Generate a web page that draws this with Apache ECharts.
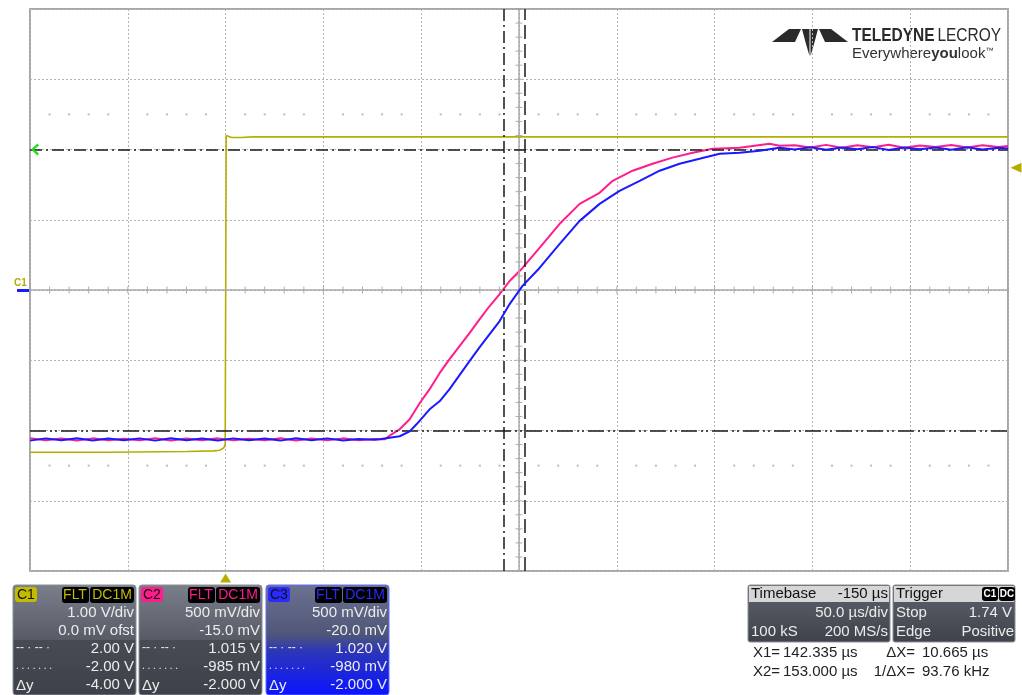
<!DOCTYPE html>
<html>
<head>
<meta charset="utf-8">
<script src="https://cdn.jsdelivr.net/npm/echarts@6/dist/echarts.min.js"></script>
<style>
html,body{margin:0;padding:0;background:#fff;}
#scope{width:1022px;height:695px;}
</style>
</head>
<body>
<div id="scope"></div>
<script>
// time in µs (trigger at 0), voltage in V
var c1Time = [-100, -60, -20, -6, -3, -1, -0.2, 0.3, 1, 3, 8, 14, 60, 150, 250, 400];
var c1Volt = [-2.31, -2.31, -2.30, -2.29, -2.28, -2.25, -2.2, 2.2, 2.21, 2.17, 2.17, 2.18, 2.18, 2.18, 2.18, 2.18];

var c2Time = [-100, -92, -84, -76, -68, -60, -52, -44, -36, -28, -20, -12, -4, 4, 12, 20, 28, 36, 44, 52, 60, 68, 76,
  81.3, 84.9, 89.0, 94.1, 99.2, 104.3, 109.4, 114.5, 119.6, 124.7, 129.9, 135.0, 140.1, 145.2, 151.8, 160.5, 170.8,
  181.0, 191.2, 197.9, 208.1, 218.3, 228.5, 238.8, 249.0, 262.8, 278.1, 283.2,
  291, 299, 307, 315, 323, 331, 339, 347, 355, 363, 371, 379, 387, 395, 400];
var c2Volt = [-1.040, -1.055, -1.042, -1.056, -1.041, -1.054, -1.043, -1.055, -1.040, -1.056, -1.042, -1.054, -1.041, -1.055, -1.043, -1.054, -1.040, -1.056, -1.042, -1.055, -1.041, -1.054, -1.046,
  -1.048, -1.012, -0.976, -0.905, -0.791, -0.691, -0.577, -0.477, -0.384, -0.292, -0.192, -0.099, -0.014, 0.079, 0.172, 0.315, 0.486,
  0.628, 0.707, 0.792, 0.864, 0.914, 0.957, 0.992, 1.021, 1.028, 1.056, 1.042,
  1.045, 1.030, 1.048, 1.028, 1.046, 1.031, 1.049, 1.027, 1.044, 1.032, 1.047, 1.029, 1.045, 1.033, 1.040];

var c3Time = [-100, -92, -84, -76, -68, -60, -52, -44, -36, -28, -20, -12, -4, 4, 12, 20, 28, 36, 44, 52, 60, 68, 76,
  78.7, 89.0, 94.1, 97.6, 104.3, 109.4, 114.5, 119.6, 124.7, 129.9, 135.0, 140.1, 145.2, 151.8, 160.5, 170.8,
  181.0, 191.2, 201.4, 211.7, 221.9, 232.1, 242.3, 252.6, 262.8, 273.0, 283.2,
  291, 299, 307, 315, 323, 331, 339, 347, 355, 363, 371, 379, 387, 395, 400];
var c3Volt = [-1.052, -1.036, -1.050, -1.035, -1.051, -1.037, -1.050, -1.036, -1.052, -1.035, -1.050, -1.037, -1.051, -1.036, -1.050, -1.037, -1.052, -1.035, -1.050, -1.036, -1.051, -1.040, -1.045,
  -1.043, -1.021, -0.986, -0.936, -0.829, -0.772, -0.686, -0.586, -0.486, -0.387, -0.294, -0.201, -0.080, 0.049, 0.177, 0.348,
  0.512, 0.633, 0.726, 0.797, 0.869, 0.919, 0.954, 0.990, 0.997, 1.011, 1.033,
  1.020, 1.036, 1.018, 1.034, 1.021, 1.037, 1.017, 1.035, 1.022, 1.034, 1.019, 1.036, 1.020, 1.033, 1.028];

// scope settings
var c1Scale = [-4, 4];              // 1.00 V/div, 0 mV offset
var c2Scale = [-1.985, 2.015];      // 500 mV/div, -15 mV offset
var c3Scale = [-1.98, 2.02];        // 500 mV/div, -20 mV offset
var cursorX = [142.335, 153.0];
var cursorY = [2.0, -2.0];
var trigLevel = 1.74;

var c1Rows = ['1.00 V/div', '0.0 mV ofst', '2.00 V', '-2.00 V', '-4.00 V'];
var c2Rows = ['500 mV/div', '-15.0 mV', '1.015 V', '-985 mV', '-2.000 V'];
var c3Rows = ['500 mV/div', '-20.0 mV', '1.020 V', '-980 mV', '-2.000 V'];

var YEL = '#b5ae00', PINK = '#ff1c8c', BLUE = '#1a1aff';
var FONT = '"Liberation Sans", Arial, sans-serif';

function pairs(t, v) {
  return t.map(function (x, i) { return [x, v[i]]; });
}

// graticule decorations
var tickX = [], tickY = [], dotRow = [];
for (var t = -100; t <= 400; t += 10) {
  tickX.push([t, 0]);
  if ((t + 100) % 50 !== 0) { dotRow.push([t, 2.5]); dotRow.push([t, -2.5]); }
}
for (var k = -20; k <= 20; k++) tickY.push([150, k / 5]);

function box(x, y, w, h, fill, stroke, r) {
  return { type: 'rect', silent: true, shape: { x: x, y: y, width: w, height: h, r: r || 0 },
    style: { fill: fill, stroke: stroke || null, lineWidth: 1 } };
}
function txt(x, y, s, color, align, size, weight) {
  return { type: 'text', silent: true, x: x, y: y,
    style: { text: s, fill: color, font: (weight || 'normal') + ' ' + (size || 15) + 'px ' + FONT,
      textAlign: align || 'left', align: align || 'left', textVerticalAlign: 'middle', verticalAlign: 'middle' } };
}

function chanPanel(x, name, col, rows, isBlue) {
  var w = 123, y = 585, els = [];
  var bg = isBlue
    ? new echarts.graphic.LinearGradient(0, 0, 0, 1, [
        { offset: 0, color: '#6c7390' }, { offset: 0.45, color: '#4f5678' },
        { offset: 0.6, color: '#2c36b8' }, { offset: 1, color: '#0a14ff' }])
    : new echarts.graphic.LinearGradient(0, 0, 0, 1, [
        { offset: 0, color: '#7a7f8b' }, { offset: 0.5, color: '#565b66' },
        { offset: 0.5, color: '#474b54' }, { offset: 1, color: '#3d4149' }]);
  els.push(box(x, y, w, 110, bg, isBlue ? '#5a6cff' : '#8a8e96', 3));
  els.push(box(x + 2, y + 2, 22, 15, col, null, 3));
  els.push(txt(x + 4, y + 10, name, '#111', 'left', 14));
  els.push(box(x + 49, y + 2, 27, 16, '#000', null, 3));
  els.push(txt(x + 62, y + 10, 'FLT', col, 'center', 14));
  els.push(box(x + 77, y + 2, 44, 16, '#000', null, 3));
  els.push(txt(x + 99, y + 10, 'DC1M', col, 'center', 14));
  var ys = [613, 631, 649, 667, 685];
  for (var i = 0; i < rows.length; i++) els.push(txt(x + w - 2, ys[i], rows[i], '#ececec', 'right', 15));
  els.push(txt(x + 3, 648, '-- · -- ·', '#ececec', 'left', 12));
  els.push(txt(x + 3, 666, '. . . . . . .', '#ececec', 'left', 10));
  els.push(txt(x + 3, 686, 'Δy', '#ececec', 'left', 15));
  return els;
}

var graphics = [];
// logo
graphics.push(box(768, 24, 236, 48, '#fff'));
[[[772, 42], [789, 29], [801, 29], [795, 42]],
 [[802, 29], [809.5, 29], [809.5, 56], [806, 44]],
 [[810.5, 29], [818, 29], [814, 44], [810.5, 56]],
 [[819, 29], [831, 29], [848, 42], [825, 42]]].forEach(function (p) {
  graphics.push({ type: 'polygon', silent: true, shape: { points: p }, style: { fill: '#2a2a2a' } });
});
graphics.push({ type: 'text', silent: true, x: 852, y: 36, scaleX: 0.86,
  style: { text: '{b|TELEDYNE} {a|LECROY}', textVerticalAlign: 'middle', verticalAlign: 'middle',
    rich: { b: { font: 'bold 18px ' + FONT, fill: '#2a2a2a', color: '#2a2a2a' },
            a: { font: '18px ' + FONT, fill: '#2a2a2a', color: '#2a2a2a' } } } });
graphics.push({ type: 'text', silent: true, x: 852, y: 54,
  style: { text: '{a|Everywhere}{b|you}{a|look}{c|™}', textVerticalAlign: 'middle', verticalAlign: 'middle',
    rich: { a: { font: '15px ' + FONT, fill: '#333', color: '#333' },
            b: { font: 'bold 15px ' + FONT, fill: '#333', color: '#333' },
            c: { font: '8px ' + FONT, fill: '#333', color: '#333', verticalAlign: 'top' } } } });
// ground marker
graphics.push(txt(14, 283, 'C1', YEL, 'left', 10, 'bold'));
graphics.push(box(17, 289, 12, 3, BLUE));
// channel panels
graphics = graphics.concat(chanPanel(13, 'C1', '#c2bc00', c1Rows, false));
graphics = graphics.concat(chanPanel(139, 'C2', PINK, c2Rows, false));
graphics = graphics.concat(chanPanel(266, 'C3', '#2a2aff', c3Rows, true));
// timebase / trigger
var darkBg = new echarts.graphic.LinearGradient(0, 0, 0, 1, [
  { offset: 0, color: '#5e636e' }, { offset: 1, color: '#3e424a' }]);
graphics.push(box(748, 585, 142, 57, darkBg, '#8a8e96', 2));
graphics.push(box(749, 586, 140, 16, '#d6d6d6'));
graphics.push(txt(751, 594, 'Timebase', '#111', 'left', 15));
graphics.push(txt(888, 594, '-150 µs', '#111', 'right', 15));
graphics.push(txt(888, 613, '50.0 µs/div', '#ececec', 'right', 15));
graphics.push(txt(751, 632, '100 kS', '#ececec', 'left', 15));
graphics.push(txt(888, 632, '200 MS/s', '#ececec', 'right', 15));
graphics.push(box(893, 585, 122, 57, darkBg, '#8a8e96', 2));
graphics.push(box(894, 586, 120, 16, '#d6d6d6'));
graphics.push(txt(896, 594, 'Trigger', '#111', 'left', 15));
graphics.push(box(982, 587, 16, 14, '#000', null, 3));
graphics.push(txt(990, 594, 'C1', '#fff', 'center', 10, 'bold'));
graphics.push(box(999, 587, 16, 14, '#000', null, 3));
graphics.push(txt(1007, 594, 'DC', '#fff', 'center', 10, 'bold'));
graphics.push(txt(896, 613, 'Stop', '#ececec', 'left', 15));
graphics.push(txt(1012, 613, '1.74 V', '#ececec', 'right', 15));
graphics.push(txt(896, 632, 'Edge', '#ececec', 'left', 15));
graphics.push(txt(1014, 632, 'Positive', '#ececec', 'right', 15));
// cursor readout
graphics.push(txt(753, 653, 'X1=', '#222', 'left', 15));
graphics.push(txt(783, 653, '142.335 µs', '#222', 'left', 15));
graphics.push(txt(915, 653, 'ΔX=', '#222', 'right', 15));
graphics.push(txt(922, 653, '10.665 µs', '#222', 'left', 15));
graphics.push(txt(753, 672, 'X2=', '#222', 'left', 15));
graphics.push(txt(783, 672, '153.000 µs', '#222', 'left', 15));
graphics.push(txt(915, 672, '1/ΔX=', '#222', 'right', 15));
graphics.push(txt(922, 672, '93.76 kHz', '#222', 'left', 15));

var chart = echarts.init(document.getElementById('scope'));
chart.setOption({
  animation: false,
  backgroundColor: '#fff',
  grid: { left: 30, top: 9, width: 978, height: 562, show: true, borderColor: '#a8a8a8', borderWidth: 2, backgroundColor: 'transparent' },
  xAxis: {
    type: 'value', min: -100, max: 400, interval: 50,
    axisLine: { show: false }, axisTick: { show: false }, axisLabel: { show: false },
    splitLine: { show: true, lineStyle: { color: '#b4b4b4', type: [2, 2], width: 1 } }
  },
  yAxis: [
    { type: 'value', min: c1Scale[0], max: c1Scale[1], interval: 1,
      axisLine: { show: false }, axisTick: { show: false }, axisLabel: { show: false },
      splitLine: { show: true, lineStyle: { color: '#b4b4b4', type: [2, 2], width: 1 } } },
    { type: 'value', min: c2Scale[0], max: c2Scale[1], show: false, splitLine: { show: false } },
    { type: 'value', min: c3Scale[0], max: c3Scale[1], show: false, splitLine: { show: false } }
  ],
  graphic: graphics,
  series: [
    { type: 'scatter', silent: true, data: dotRow, symbol: 'rect', symbolSize: 2, itemStyle: { color: '#aaa' }, z: 1 },
    { type: 'scatter', silent: true, data: tickX, symbol: 'rect', symbolSize: [1, 7], itemStyle: { color: '#9a9a9a' }, z: 1 },
    { type: 'scatter', silent: true, data: tickY, symbol: 'rect', symbolSize: [7, 1], itemStyle: { color: '#9a9a9a' }, z: 1 },
    { type: 'line', silent: true, data: [], z: 2,
      markLine: { silent: true, symbol: 'none', label: { show: false },
        data: [
          { xAxis: 150, lineStyle: { color: '#a8a8a8', type: 'solid', width: 1.5 } },
          { yAxis: 0, lineStyle: { color: '#a8a8a8', type: 'solid', width: 1.5 } }
        ] } },
    { name: 'C1', type: 'line', data: pairs(c1Time, c1Volt), yAxisIndex: 0, showSymbol: false, z: 3,
      lineStyle: { color: YEL, width: 1.6 }, itemStyle: { color: YEL },
      markPoint: { silent: true, label: { show: false },
        data: [
          { coord: [400, trigLevel], symbol: 'triangle', symbolRotate: 90, symbolSize: [10, 11], symbolOffset: [8, 0], itemStyle: { color: YEL } },
          { coord: [0, c1Scale[0]], symbol: 'triangle', symbolSize: [11, 9], symbolOffset: [0, 7], itemStyle: { color: YEL } },
          { coord: [-100, cursorY[0]], symbol: 'path://M8,0 L10,2 L4,6 L10,10 L8,12 L0,6 Z', symbolSize: [8, 12], symbolOffset: [5, 0], itemStyle: { color: '#22dd22' } }
        ] } },
    { name: 'C2', type: 'line', data: pairs(c2Time, c2Volt), yAxisIndex: 1, showSymbol: false, z: 4,
      lineStyle: { color: PINK, width: 2 } },
    { name: 'C3', type: 'line', data: pairs(c3Time, c3Volt), yAxisIndex: 2, showSymbol: false, z: 5,
      lineStyle: { color: BLUE, width: 2 } },
    { type: 'line', silent: true, data: [], z: 6,
      markLine: { silent: true, symbol: 'none', label: { show: false },
        data: [
          { xAxis: cursorX[0], lineStyle: { color: '#1a1a1a', type: [12, 4, 2, 4], width: 1.5 } },
          { xAxis: cursorX[1], lineStyle: { color: '#1a1a1a', type: [14, 5], width: 1.5 } },
          { yAxis: cursorY[0], lineStyle: { color: '#1a1a1a', type: [12, 4, 2, 4], width: 1.5 } },
          { yAxis: cursorY[1], lineStyle: { color: '#1a1a1a', type: [16, 4, 2, 3, 2, 4], width: 1.5 } }
        ] } }
  ]
});
</script>
</body>
</html>
